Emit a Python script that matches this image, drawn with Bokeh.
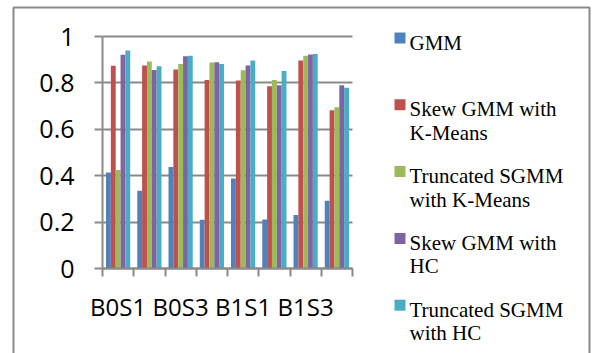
from bokeh.plotting import figure
from bokeh.models import Range1d, FixedTicker, LinearAxis, Grid
from bokeh.core.properties import value
from bokeh.embed import file_html
from bokeh.resources import INLINE

# Data
categories = ["B0S1", "B0S2", "B0S3", "B0S4", "B1S1", "B1S2", "B1S3", "B1S4"]
series_names = ["GMM", "Skew GMM with K-Means", "Truncated SGMM with K-Means",
                "Skew GMM with HC", "Truncated SGMM with HC"]
gmm = [0.414, 0.335, 0.438, 0.210, 0.388, 0.211, 0.231, 0.292]
skew_kmeans = [0.874, 0.875, 0.858, 0.812, 0.810, 0.786, 0.897, 0.682]
trunc_kmeans = [0.425, 0.892, 0.881, 0.888, 0.855, 0.812, 0.917, 0.695]
skew_hc = [0.921, 0.856, 0.915, 0.889, 0.875, 0.790, 0.922, 0.790]
trunc_hc = [0.940, 0.872, 0.917, 0.881, 0.897, 0.851, 0.925, 0.779]
y_ticks = [0, 0.2, 0.4, 0.6, 0.8, 1]
y_tick_labels = ["0", "0.2", "0.4", "0.6", "0.8", "1"]

series = [gmm, skew_kmeans, trunc_kmeans, skew_hc, trunc_hc]
colors = ["#4F81BD", "#C0504D", "#9BBB59", "#8064A2", "#4BACC6"]
legend_lines = [["GMM"], ["Skew GMM with", "K-Means"], ["Truncated SGMM", "with K-Means"],
                ["Skew GMM with", "HC"], ["Truncated SGMM", "with HC"]]

# Canvas layout (pixels): plot area spans x 102..352, y 36..268
W, H = 592, 353
AREA_L, AREA_W, AREA_B, AREA_H = 102, 250, 268, 232
n_cat = len(categories)
x_per_px = n_cat / AREA_W
y_per_px = 1.0 / AREA_H


def px_x(px):
    return (px - AREA_L) * x_per_px


def px_y(py):
    return (AREA_B - py) * y_per_px


p = figure(width=W, height=H, output_backend="svg", toolbar_location=None,
           x_range=Range1d(px_x(0), px_x(W)), y_range=Range1d(px_y(H), px_y(0)),
           x_axis_type=None, y_axis_type=None, min_border=0)
p.outline_line_color = None
p.background_fill_color = "white"
p.border_fill_color = "white"
p.grid.visible = False

grey = "#8a8a8a"

# horizontal gridlines over the plot area only
grid_kw = dict(dimension=1, ticker=FixedTicker(ticks=y_ticks), grid_line_color=grey,
               grid_line_width=2)
if "cross_bounds" in Grid.properties():
    grid_kw["cross_bounds"] = (0, n_cat)
p.add_layout(Grid(**grid_kw))

# clustered bars: five series side by side within each category slot
bar_w = 0.155
n = len(series)
for k, (vals, col) in enumerate(zip(series, colors)):
    xs = [i + 0.5 + (k - (n - 1) / 2) * bar_w for i in range(n_cat)]
    p.vbar(x=xs, top=vals, width=bar_w, bottom=0, fill_color=col, line_color=None)

label_font = "Open Sans"

# y axis
yaxis = LinearAxis(fixed_location=0, bounds=(0, 1),
                   ticker=FixedTicker(ticks=y_ticks, minor_ticks=[]))
yaxis.major_label_overrides = {t: s for t, s in zip(y_ticks, y_tick_labels)}
yaxis.major_label_text_font = label_font
yaxis.major_label_text_font_size = "25px"
yaxis.major_label_text_color = "black"
yaxis.major_label_standoff = 20
yaxis.axis_line_color = grey
yaxis.axis_line_width = 2
yaxis.major_tick_line_color = grey
yaxis.major_tick_line_width = 2
yaxis.major_tick_out = 8
yaxis.major_tick_in = 0
yaxis.minor_tick_line_color = None
p.add_layout(yaxis, "left")

# x axis: tick marks at slot boundaries, labels at every other slot centre
label_pos = [i + 0.5 for i in range(0, n_cat, 2)]
xaxis = LinearAxis(fixed_location=0, bounds=(0, n_cat),
                   ticker=FixedTicker(ticks=label_pos, minor_ticks=list(range(n_cat + 1))))
xaxis.major_label_overrides = {x: categories[int(x)] for x in label_pos}
xaxis.major_label_text_font = label_font
xaxis.major_label_text_font_size = "24px"
xaxis.major_label_text_color = "black"
xaxis.major_label_standoff = 13
xaxis.axis_line_color = grey
xaxis.axis_line_width = 2
xaxis.major_tick_line_color = None
xaxis.major_tick_out = 0
xaxis.major_tick_in = 0
xaxis.minor_tick_line_color = grey
xaxis.minor_tick_line_width = 2
xaxis.minor_tick_out = 8
xaxis.minor_tick_in = 0
p.add_layout(xaxis, "below")

# legend beside the plot area
first_base = 46
pitch = 66.8
line_gap = 23.5
text_lift = 4
for k, (lines, col) in enumerate(zip(legend_lines, colors)):
    base = first_base + k * pitch
    p.quad(left=[px_x(394)], right=[px_x(405)], top=[px_y(base - 14)], bottom=[px_y(base - 3)],
           fill_color=col, line_color=None)
    p.text(x=[px_x(409)] * len(lines),
           y=[px_y(base - text_lift + j * line_gap) for j in range(len(lines))],
           text=lines, text_font=value("Liberation Serif"), text_font_size="21px",
           text_color="black", text_baseline="alphabetic", text_align="left")

# chart frame border (open at the bottom edge)
p.line(x=[px_x(13), px_x(13), px_x(589), px_x(589)],
       y=[px_y(H + 5), px_y(7), px_y(7), px_y(H + 5)],
       line_color=grey, line_width=2)

open("out.html", "w").write(file_html(p, INLINE))
